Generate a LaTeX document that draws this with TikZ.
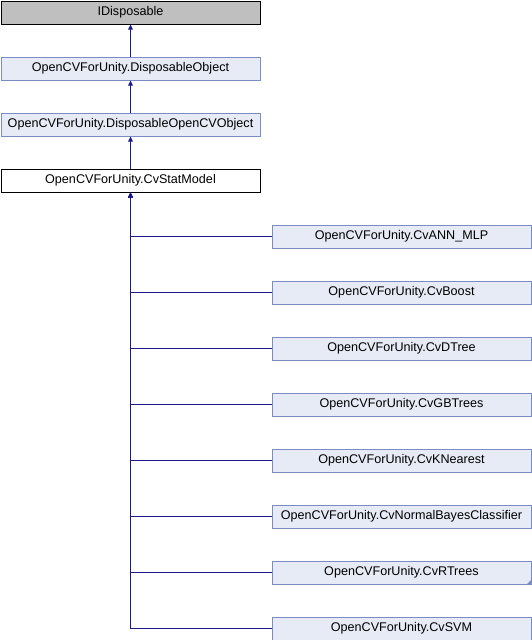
\documentclass[tikz,border=0pt]{standalone}
\usepackage{fontspec}
\setmainfont{Liberation Sans}
\usetikzlibrary{arrows.meta}
\definecolor{lineblue}{HTML}{1A1A8C}
\definecolor{boxfill}{HTML}{E6EBF5}
\definecolor{boxline}{HTML}{7A8CC4}
\definecolor{greyfill}{HTML}{BFBFBF}
\begin{document}
\begin{tikzpicture}[x=1pt,y=-1pt,
  cls/.style={draw=boxline,fill=boxfill,line width=1pt,minimum width=259pt,minimum height=23pt,inner sep=0pt,font=\fontsize{12.6}{13}\selectfont},
  curcls/.style={cls,draw=black,fill=white},
  extcls/.style={cls,draw=black,fill=greyfill},
  inh/.style={draw=lineblue,line width=1pt,{Triangle[length=5pt,width=4.5pt]}-}
]
\useasboundingbox (0,0) rectangle (532,640);
\node[extcls] (idisp) at (130.5,12.5) {IDisposable};
\node[cls] (dobj) at (130.5,68.5) {OpenCVForUnity.DisposableObject};
\node[cls] (docv) at (130.5,124.5) {OpenCVForUnity.DisposableOpenCVObject};
\node[curcls] (stat) at (130.5,180.5) {OpenCVForUnity.CvStatModel};
\node[cls] (ann) at (401.5,236.5) {OpenCVForUnity.CvANN\_MLP};
\node[cls] (boost) at (401.5,292.5) {OpenCVForUnity.CvBoost};
\node[cls] (dtree) at (401.5,348.5) {OpenCVForUnity.CvDTree};
\node[cls] (gbt) at (401.5,404.5) {OpenCVForUnity.CvGBTrees};
\node[cls] (knn) at (401.5,460.5) {OpenCVForUnity.CvKNearest};
\node[cls] (nbc) at (401.5,516.5) {OpenCVForUnity.CvNormalBayesClassifier};
\node[cls] (rt) at (401.5,572.5) {OpenCVForUnity.CvRTrees};
\node[cls] (svm) at (401.5,628.5) {OpenCVForUnity.CvSVM};
\fill[boxline] (rt.south east) -- ++(-5,0) -- ++(5,-5) -- cycle;
\draw[inh] (idisp.south) -- (dobj.north);
\draw[inh] (dobj.south) -- (docv.north);
\draw[inh] (docv.south) -- (stat.north);
\foreach \c in {ann,boost,dtree,gbt,knn,nbc,rt,svm}{
  \draw[inh] (stat.south) |- (\c.west);
}
\end{tikzpicture}
\end{document}
